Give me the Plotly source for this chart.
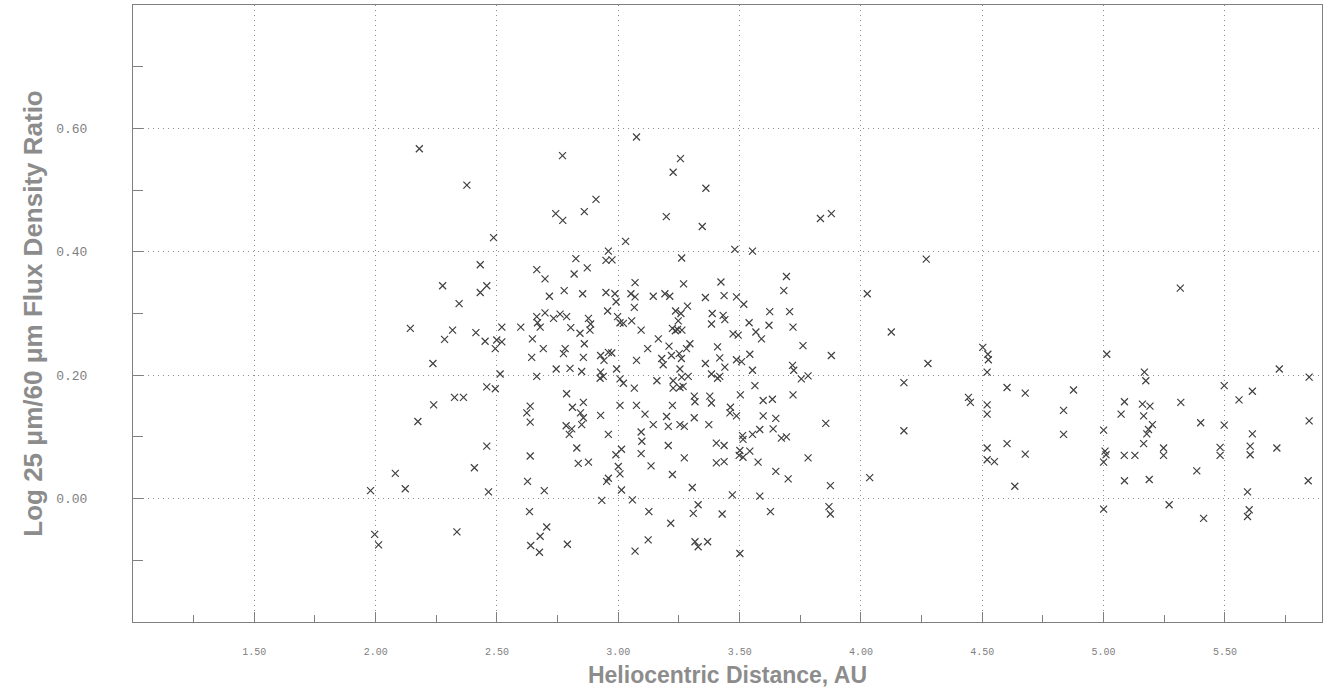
import plotly.graph_objects as go

# Heliocentric distance (AU) and log 25um/60um flux density ratio
distance_au = [
    2.180, 2.376, 2.486, 2.431, 2.276, 2.458, 2.431, 2.344, 2.143, 2.317, 2.284, 2.413, 2.451, 2.520,
    2.499, 2.520, 2.493, 2.236, 2.513, 2.458, 2.493, 2.325, 2.362, 2.239, 2.174, 2.458, 2.407, 2.081,
    2.122, 1.979, 2.465, 2.335, 1.996, 2.012,
    2.770, 2.908, 2.860, 2.742, 2.771, 2.959, 2.949, 2.974, 2.825, 2.664, 2.872, 2.818, 2.698, 2.777,
    2.853, 2.716, 2.949, 2.986, 2.991, 2.956, 2.598, 2.664, 2.698, 2.667, 2.678, 2.733, 2.760, 2.787,
    2.877, 2.886, 2.883, 2.804, 2.842, 2.997, 3.007, 2.646, 2.860,
    2.691, 2.781, 2.774, 2.856, 2.643, 2.927, 2.959, 2.941, 2.973, 2.744, 2.801, 2.849, 2.664, 2.927,
    2.938, 2.925, 2.993, 3.007, 2.787, 2.856, 2.637, 2.623, 2.811, 2.844, 2.856, 2.849, 2.927, 3.007,
    2.637, 2.785, 2.808, 2.798, 2.959, 2.829, 2.637, 2.835, 2.877, 2.990, 3.013, 3.000, 3.007, 2.959,
    2.952, 2.626, 2.695, 3.013, 2.932, 2.634, 2.705, 2.678, 2.639, 2.675, 2.790,
    3.075, 3.256, 3.226, 3.361, 3.198, 3.346, 3.030, 3.261, 3.069, 3.269, 3.423, 3.052, 3.069, 3.144,
    3.192, 3.212, 3.359, 3.436, 3.066, 3.285, 3.236, 3.258, 3.247, 3.387, 3.432, 3.439, 3.055, 3.021,
    3.384, 3.223, 3.244, 3.262, 3.235, 3.094, 3.165, 3.209, 3.295, 3.281, 3.409, 3.121,
    3.179, 3.185, 3.219, 3.251, 3.260, 3.075, 3.021, 3.359, 3.418, 3.439, 3.384, 3.409, 3.418, 3.254,
    3.261, 3.288, 3.226, 3.159, 3.066, 3.226, 3.254, 3.267, 3.313, 3.316, 3.377, 3.384, 3.075, 3.223,
    3.110, 3.199, 3.313, 3.144, 3.206, 3.254, 3.272, 3.373, 3.094, 3.097, 3.404, 3.436, 3.206, 3.094,
    3.272, 3.404, 3.436, 3.135, 3.223, 3.305, 3.058, 3.329, 3.309, 3.126, 3.428, 3.216, 3.123, 3.316,
    3.329, 3.368, 3.069,
    3.833, 3.878, 3.480, 3.553, 3.693, 3.682, 3.487, 3.517, 3.624, 3.706, 3.539, 3.621, 3.720, 3.567,
    3.590, 3.473, 3.494, 3.761, 3.542, 3.487, 3.508, 3.878, 3.553, 3.718, 3.723, 3.782, 3.754,
    3.563, 3.503, 3.635, 3.597, 3.720, 3.462, 3.460, 3.487, 3.597, 3.649, 3.855, 3.638, 3.583, 3.553,
    3.512, 3.514, 3.672, 3.693, 3.501, 3.542, 3.498, 3.514, 3.576, 3.782, 3.649, 3.700, 3.874, 3.470,
    3.583, 3.868, 3.874, 3.627, 3.501,
    4.269, 4.026, 4.125, 4.276, 4.177, 4.502, 4.523, 4.525, 4.520, 4.443, 4.451, 4.520, 4.520, 4.177,
    4.520, 4.520, 4.550, 4.036,
    5.013, 5.168, 5.174, 4.602, 4.677, 4.876, 5.086, 5.160, 5.191, 4.835, 5.072, 5.165, 5.201, 5.185,
    5.178, 5.000, 4.835, 5.165, 4.602, 4.677, 5.006, 5.010, 5.085, 5.129, 5.000, 4.634, 5.086, 5.188,
    5.000,
    5.316, 5.724, 5.847, 5.497, 5.613, 5.558, 5.318, 5.400, 5.497, 5.847, 5.613, 5.247, 5.247, 5.480,
    5.480, 5.604, 5.604, 5.714, 5.384, 5.843, 5.593, 5.270, 5.600, 5.593, 5.412,
]

log_flux_ratio = [
    0.567, 0.508, 0.423, 0.379, 0.345, 0.345, 0.334, 0.316, 0.276, 0.273, 0.258, 0.269, 0.255, 0.278,
    0.257, 0.254, 0.243, 0.219, 0.202, 0.181, 0.178, 0.164, 0.164, 0.152, 0.125, 0.085, 0.050, 0.041,
    0.016, 0.013, 0.011, -0.054, -0.058, -0.075,
    0.556, 0.485, 0.465, 0.462, 0.451, 0.401, 0.386, 0.387, 0.389, 0.371, 0.374, 0.364, 0.356, 0.337,
    0.332, 0.328, 0.334, 0.332, 0.319, 0.304, 0.278, 0.295, 0.301, 0.285, 0.278, 0.292, 0.299, 0.295,
    0.292, 0.283, 0.273, 0.277, 0.268, 0.295, 0.285, 0.259, 0.251,
    0.243, 0.243, 0.235, 0.229, 0.229, 0.232, 0.237, 0.224, 0.236, 0.210, 0.211, 0.206, 0.198, 0.205,
    0.198, 0.195, 0.210, 0.194, 0.170, 0.156, 0.150, 0.139, 0.148, 0.139, 0.131, 0.120, 0.135, 0.151,
    0.124, 0.118, 0.113, 0.104, 0.104, 0.082, 0.069, 0.057, 0.059, 0.071, 0.080, 0.052, 0.040, 0.033,
    0.028, 0.028, 0.013, 0.014, -0.003, -0.021, -0.046, -0.061, -0.076, -0.087, -0.074,
    0.586, 0.551, 0.529, 0.503, 0.457, 0.441, 0.417, 0.390, 0.350, 0.348, 0.351, 0.332, 0.327, 0.328,
    0.332, 0.328, 0.326, 0.329, 0.310, 0.312, 0.304, 0.300, 0.288, 0.300, 0.297, 0.290, 0.288, 0.284,
    0.283, 0.276, 0.274, 0.273, 0.272, 0.273, 0.259, 0.247, 0.251, 0.243, 0.246, 0.243,
    0.227, 0.217, 0.232, 0.235, 0.227, 0.224, 0.187, 0.219, 0.228, 0.213, 0.202, 0.195, 0.198, 0.210,
    0.197, 0.198, 0.191, 0.191, 0.179, 0.179, 0.180, 0.182, 0.166, 0.157, 0.166, 0.155, 0.151, 0.151,
    0.137, 0.133, 0.131, 0.120, 0.117, 0.120, 0.117, 0.120, 0.108, 0.093, 0.090, 0.086, 0.086, 0.073,
    0.066, 0.058, 0.060, 0.053, 0.039, 0.018, -0.002, -0.010, -0.024, -0.021, -0.025, -0.040, -0.067, -0.070,
    -0.078, -0.070, -0.085,
    0.454, 0.462, 0.404, 0.401, 0.360, 0.337, 0.327, 0.315, 0.303, 0.303, 0.285, 0.281, 0.278, 0.270,
    0.259, 0.267, 0.265, 0.248, 0.234, 0.225, 0.222, 0.232, 0.208, 0.216, 0.208, 0.199, 0.194,
    0.183, 0.168, 0.161, 0.159, 0.168, 0.148, 0.139, 0.134, 0.134, 0.130, 0.122, 0.113, 0.112, 0.104,
    0.102, 0.096, 0.098, 0.100, 0.078, 0.077, 0.070, 0.067, 0.059, 0.066, 0.044, 0.032, 0.021, 0.006,
    0.004, -0.013, -0.025, -0.021, -0.089,
    0.388, 0.332, 0.270, 0.219, 0.188, 0.245, 0.234, 0.225, 0.205, 0.164, 0.156, 0.152, 0.137, 0.110,
    0.082, 0.063, 0.060, 0.034,
    0.234, 0.205, 0.191, 0.180, 0.171, 0.176, 0.157, 0.153, 0.150, 0.143, 0.137, 0.134, 0.120, 0.112,
    0.105, 0.111, 0.104, 0.089, 0.089, 0.072, 0.077, 0.071, 0.070, 0.070, 0.059, 0.020, 0.029, 0.031,
    -0.017,
    0.341, 0.210, 0.197, 0.183, 0.174, 0.160, 0.156, 0.123, 0.119, 0.126, 0.105, 0.082, 0.070, 0.083,
    0.070, 0.085, 0.071, 0.082, 0.045, 0.029, 0.011, -0.010, -0.018, -0.029, -0.032,
]

x_ticks = [1.5, 2.0, 2.5, 3.0, 3.5, 4.0, 4.5, 5.0, 5.5]
x_tick_labels = ["1.50", "2.00", "2.50", "3.00", "3.50", "4.00", "4.50", "5.00", "5.50"]
x_minor_ticks = [1.25, 1.75, 2.25, 2.75, 3.25, 3.75, 4.25, 4.75, 5.25, 5.75]
y_ticks = [0.0, 0.2, 0.4, 0.6]
y_tick_labels = ["0.00", "0.20", "0.40", "0.60"]
y_minor_ticks = [-0.1, 0.1, 0.3, 0.5, 0.7]

fig = go.Figure()
fig.add_trace(go.Scatter(
    x=distance_au, y=log_flux_ratio, mode="markers",
    marker=dict(symbol="x-thin", size=7, line=dict(width=1.2, color="#404040")),
    showlegend=False, hoverinfo="x+y",
))

axis_common = dict(
    showline=True, linecolor="#808080", linewidth=1, mirror=True,
    showgrid=True, gridcolor="#8c8c8c", griddash="1px,4px", gridwidth=1,
    zeroline=False, ticks="inside", tickcolor="#808080", ticklen=10, tickwidth=1,
    automargin=False,
)

fig.update_xaxes(
    **axis_common,
    range=[1.0, 5.9], tickmode="array", tickvals=x_ticks, ticktext=x_tick_labels,
    tickfont=dict(family="Liberation Mono", size=10, color="#808080"),
    ticklabelstandoff=20,
    minor=dict(tickmode="array", tickvals=x_minor_ticks, ticks="inside", ticklen=7,
               tickcolor="#808080", showgrid=False),
    title=dict(text="Heliocentric Distance, AU", standoff=9,
               font=dict(family="Liberation Sans", size=23, color="#8c8c8c", weight="bold")),
)
fig.update_yaxes(
    **axis_common,
    range=[-0.2, 0.8], tickmode="array", tickvals=y_ticks, ticktext=y_tick_labels,
    tickfont=dict(family="Liberation Mono", size=13, color="#808080"),
    ticklabelstandoff=42,
    minor=dict(tickmode="array", tickvals=y_minor_ticks, ticks="inside", ticklen=10,
               tickcolor="#808080", showgrid=False),
    title=dict(text="Log 25 \u03bcm/60 \u03bcm Flux Density Ratio", standoff=6,
               font=dict(family="Liberation Sans", size=26, color="#8c8c8c", weight="bold")),
)

fig.update_layout(
    width=1340, height=689,
    margin=dict(l=133, r=18, t=5, b=67),
    paper_bgcolor="white", plot_bgcolor="white",
)

fig.write_html("out.html")
